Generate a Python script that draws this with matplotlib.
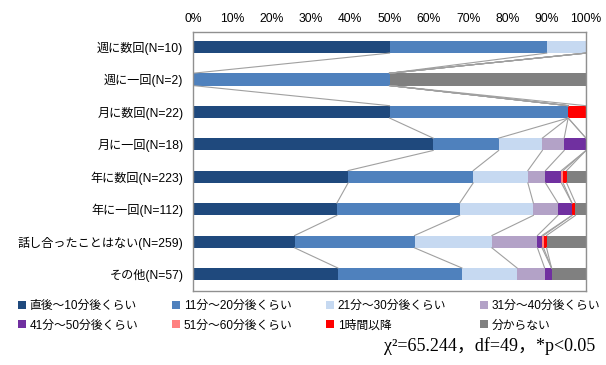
import matplotlib
matplotlib.use('Agg')
import matplotlib.pyplot as plt
from matplotlib.patches import Patch
import numpy as np

plt.rcParams['font.family'] = ['Liberation Sans', 'Noto Sans CJK JP', 'DejaVu Sans']

# 回答者の区分
groups = ['週に数回(N=10)', '週に一回(N=2)', '月に数回(N=22)', '月に一回(N=18)',
          '年に数回(N=223)', '年に一回(N=112)', '話し合ったことはない(N=259)', 'その他(N=57)']

answers = ['直後～10分後くらい', '11分～20分後くらい', '21分～30分後くらい', '31分～40分後くらい',
           '41分～50分後くらい', '51分～60分後くらい', '1時間以降', '分からない']

colors = ['#1F497D', '#4F81BD', '#C6D9F1', '#B3A2C7',
          '#7030A0', '#FF8080', '#FF0000', '#808080']

# 人数 (行=区分, 列=回答)
counts = np.array([
    [5, 4, 1, 0, 0, 0, 0, 0],
    [0, 1, 0, 0, 0, 0, 0, 1],
    [11, 10, 0, 0, 0, 0, 1, 0],
    [11, 3, 2, 1, 1, 0, 0, 0],
    [88, 71, 31, 10, 9, 1, 2, 11],
    [41, 35, 21, 7, 4, 0, 1, 3],
    [67, 79, 51, 30, 3, 1, 2, 26],
    [21, 18, 8, 4, 1, 0, 0, 5],
])

pct = counts / counts.sum(axis=1, keepdims=True) * 100
cum = np.cumsum(pct, axis=1)
left = cum - pct

fig = plt.figure(figsize=(6.06, 3.65), dpi=100)
ax = fig.add_axes([0.3185, 0.2027, 0.6485, 0.7096])

y = np.arange(len(groups))
h = 0.38
for k in range(len(answers)):
    ax.barh(y, pct[:, k], left=left[:, k], height=h, color=colors[k], edgecolor='none')

# 区分間の区分線
for k in range(len(answers)):
    for i in range(len(groups) - 1):
        ax.plot([cum[i, k], cum[i + 1, k]], [y[i] + h / 2, y[i + 1] - h / 2],
                color='#A0A0A0', lw=0.8, zorder=1)

ax.set_xlim(0, 100)
ax.set_ylim(7.52, -0.46)
ax.set_xticks(np.arange(0, 101, 10))
ax.set_xticklabels([f'{v}%' for v in range(0, 101, 10)])
ax.xaxis.tick_top()
ax.tick_params(axis='x', length=0, pad=5, labelsize=8.7)
ax.set_yticks(y)
ax.set_yticklabels(groups)
ax.tick_params(axis='y', length=0, pad=7, labelsize=8.7)
for s in ax.spines.values():
    s.set_color('#909090')
    s.set_linewidth(1)

order = [0, 4, 1, 5, 2, 6, 3, 7]
handles = [Patch(facecolor=colors[k], edgecolor='none', label=answers[k]) for k in order]
fig.legend(handles=handles, ncol=4, loc='upper left', bbox_to_anchor=(0.022, 0.19),
           frameon=False, fontsize=8.5, handlelength=0.68, handleheight=0.68,
           handletextpad=0.3, columnspacing=2.85, labelspacing=0.6, borderaxespad=0)

fig.text(0.982, 0.028, 'χ²=65.244，df=49，*p<0.05', ha='right', va='bottom',
         fontsize=13, family=['Liberation Serif', 'Noto Sans CJK JP'])

fig.savefig('out.png', dpi=100)
